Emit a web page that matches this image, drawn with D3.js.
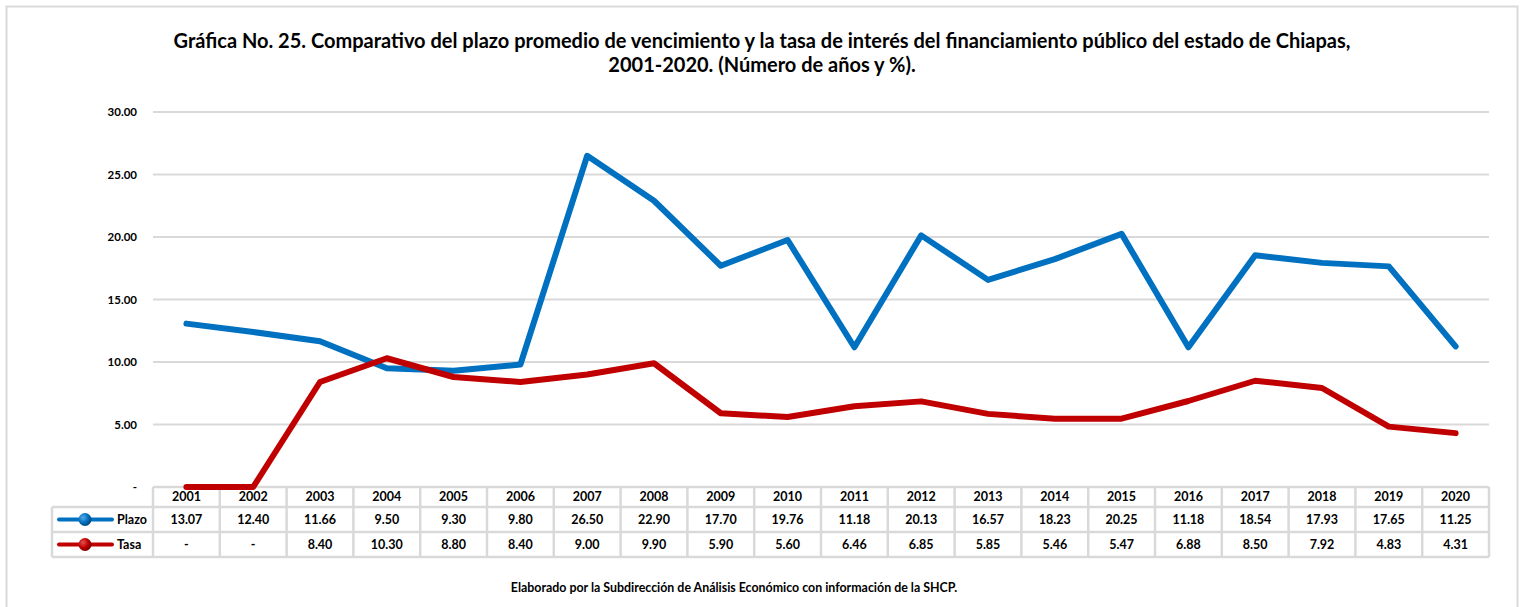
<!DOCTYPE html>
<html><head><meta charset="utf-8">
<script src="https://cdn.jsdelivr.net/npm/d3@7"></script>
<style>
body{margin:0;background:#fff;}
text{font-family:Lato,"Open Sans",sans-serif;font-weight:bold;fill:#000;}
</style></head><body>
<svg id="c" width="1522" height="607"></svg>
<script>
const years = ["2001","2002","2003","2004","2005","2006","2007","2008","2009","2010","2011","2012","2013","2014","2015","2016","2017","2018","2019","2020"];
const plazo = [13.07,12.40,11.66,9.50,9.30,9.80,26.50,22.90,17.70,19.76,11.18,20.13,16.57,18.23,20.25,11.18,18.54,17.93,17.65,11.25];
const tasa = [null,null,8.40,10.30,8.80,8.40,9.00,9.90,5.90,5.60,6.46,6.85,5.85,5.46,5.47,6.88,8.50,7.92,4.83,4.31];
const yTicks = [0,5,10,15,20,25,30];
const titleLines = ["Gráfica No. 25. Comparativo del plazo promedio de vencimiento y la tasa de interés del financiamiento público del estado de Chiapas,","2001-2020. (Número de años y %)."];
const footer = "Elaborado por la Subdirección de Análisis Económico con información de la SHCP.";

const svg = d3.select("#c");
svg.append("rect").attr("x",6.5).attr("y",6.5).attr("width",1511).attr("height",620).attr("fill","#fff").attr("stroke","#d9d9d9").attr("stroke-width",2);

const L=153, R=1489, T=112, B=487;
const x = d3.scaleBand().domain(years).range([L,R]);
const y = d3.scaleLinear().domain([0,30]).range([B,T]);
const fmt = v => (v===null||v===0) ? "-" : d3.format(".2f")(v);

// title
svg.selectAll(".t").data(titleLines).enter().append("text")
  .attr("x",762).attr("y",(d,i)=>48+i*24).attr("text-anchor","middle").attr("font-size",20).text(d=>d);

// grid
svg.append("g").selectAll("line").data(yTicks.filter(d=>d>0)).enter().append("line")
  .attr("x1",L).attr("x2",R).attr("y1",d=>y(d)).attr("y2",d=>y(d)).attr("stroke","#d9d9d9").attr("stroke-width",2);
// y labels
svg.append("g").selectAll("text").data(yTicks).enter().append("text")
  .attr("x",137).attr("y",d=>y(d)+4).attr("text-anchor","end").attr("font-size",11.5).text(d=>d===0?"-":d3.format(".2f")(d));

// table
const tg = svg.append("g");
const gcol="#d9d9d9";
[[L,487],[52,507],[52,532],[52,557]].forEach(([x0,yy])=>tg.append("line").attr("x1",x0).attr("x2",R).attr("y1",yy).attr("y2",yy).attr("stroke",gcol).attr("stroke-width",2.5));
tg.append("line").attr("x1",52).attr("x2",52).attr("y1",507).attr("y2",557).attr("stroke",gcol).attr("stroke-width",2.5);
tg.selectAll(".v").data(years.map(d=>x(d)).concat([R])).enter().append("line")
  .attr("x1",d=>d).attr("x2",d=>d).attr("y1",487).attr("y2",557).attr("stroke",gcol).attr("stroke-width",2.5);
const cx = d=>x(d)+x.bandwidth()/2;
tg.selectAll(".yr").data(years).enter().append("text").attr("x",cx).attr("y",501).attr("text-anchor","middle").attr("font-size",12.5).text(d=>d);
tg.selectAll(".pv").data(years).enter().append("text").attr("x",cx).attr("y",524).attr("text-anchor","middle").attr("font-size",12.5).text((d,i)=>fmt(plazo[i]));
tg.selectAll(".tv").data(years).enter().append("text").attr("x",cx).attr("y",549).attr("text-anchor","middle").attr("font-size",12.5).text((d,i)=>fmt(tasa[i]));

// gradients for legend spheres
const defs = svg.append("defs");
[["gb","#5aa9e6","#0070c0","#004a80"],["gr","#e05555","#c00000","#7a0000"]].forEach(([id,c1,c2,c3])=>{
  const g=defs.append("radialGradient").attr("id",id).attr("cx","35%").attr("cy","35%").attr("r","65%");
  g.append("stop").attr("offset","0%").attr("stop-color",c1);
  g.append("stop").attr("offset","60%").attr("stop-color",c2);
  g.append("stop").attr("offset","100%").attr("stop-color",c3);
});
const leg=[["Plazo","#0070C0","gb",519.5],["Tasa","#C00000","gr",544.5]];
leg.forEach(([name,col,gid,yy])=>{
  tg.append("line").attr("x1",59).attr("x2",112).attr("y1",yy).attr("y2",yy).attr("stroke",col).attr("stroke-width",4).attr("stroke-linecap","round");
  tg.append("circle").attr("cx",85).attr("cy",yy).attr("r",6.5).attr("fill",`url(#${gid})`);
  tg.append("text").attr("x",117).attr("y",yy+4.5).attr("font-size",12.5).text(name);
});

// lines
const line = d3.line().x((d,i)=>cx(years[i])).y(d=>y(d===null?0:d)).curve(d3.curveLinear);
svg.append("path").datum(plazo).attr("d",line).attr("fill","none").attr("stroke","#0070C0").attr("stroke-width",6).attr("stroke-linejoin","round").attr("stroke-linecap","round");
svg.append("path").datum(tasa).attr("d",line).attr("fill","none").attr("stroke","#C00000").attr("stroke-width",6).attr("stroke-linejoin","round").attr("stroke-linecap","round");

// footer
svg.append("text").attr("x",734).attr("y",592).attr("text-anchor","middle").attr("font-size",12.4).text(footer);
</script></body></html>
